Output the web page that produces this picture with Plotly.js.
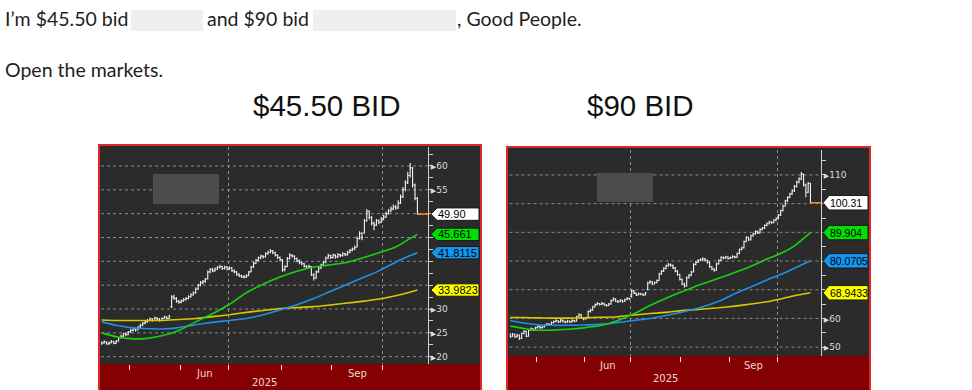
<!DOCTYPE html>
<html><head><meta charset="utf-8">
<script src="https://cdn.plot.ly/plotly-3.0.1.min.js"></script>
<style>html,body{margin:0;padding:0;background:#fff}#chart{width:972px;height:390px}</style>
</head><body><div id="chart"></div>
<script>
// ---------- calendar ----------
const startDay = '2025-04-14', endDay = '2025-10-21';
const holidays = ['2025-04-18','2025-05-26','2025-06-19','2025-07-04','2025-09-01'];
const monthNames = {'06':'Jun','09':'Sep'};
const yearLabel = '2025';

// ---------- $45.50 BID chart (daily OHLC) ----------
const open45 = [22.7,22.9,23.1,22.7,22.9,23.2,22.8,23.3,24.0,24.3,
 24.8,24.6,25.2,25.5,25.8,25.6,26.2,26.6,27.0,27.3,
 27.6,27.9,27.6,28.1,27.9,27.6,28.0,28.3,28.0,30.5,
 32.5,32.2,31.6,31.4,31.7,32.0,32.2,32.6,33.0,33.4,
 34.2,35.0,35.5,35.8,36.4,37.8,38.3,38.0,38.4,38.7,
 38.9,38.5,38.8,38.4,38.6,38.0,37.8,37.3,37.0,36.8,
 36.7,37.0,37.8,38.8,39.6,40.2,40.7,41.1,40.9,41.6,
 41.9,42.2,41.8,41.3,40.8,40.3,38.2,38.9,40.6,41.3,
 41.1,40.6,40.1,39.7,39.5,39.0,38.8,38.9,37.2,36.5,
 37.8,38.6,39.2,39.8,40.7,41.2,40.8,41.3,40.9,41.4,
 41.2,41.6,41.4,41.9,42.3,42.6,43.0,44.8,45.9,46.0,
 48.5,50.4,49.2,48.0,47.6,48.5,48.2,48.9,49.3,50.0,
 50.6,51.0,51.4,51.2,52.2,53.5,55.0,56.5,58.0,59.6,
 56.0,53.2];
const high45 = [23.2,23.4,23.2,23.2,23.5,23.3,23.5,24.2,24.6,25.0,
 25.0,25.4,25.8,26.1,26.0,26.4,26.9,27.3,27.6,27.9,
 28.2,28.1,28.4,28.3,28.1,28.3,28.6,28.5,28.8,32.9,
 33.0,32.5,31.9,32.0,32.3,32.5,32.9,33.3,33.7,34.5,
 35.3,35.9,36.1,36.5,38.1,38.6,38.6,38.7,39.0,39.3,
 39.1,39.1,39.0,38.9,38.8,38.3,38.0,37.5,37.2,37.1,
 37.3,38.0,39.0,39.9,40.5,41.0,41.4,41.3,41.9,42.2,
 42.6,42.4,42.0,41.5,41.0,40.5,39.2,40.9,41.7,41.5,
 41.3,40.8,40.4,40.0,39.7,39.2,39.3,39.0,37.5,38.1,
 38.9,39.5,40.1,41.0,41.6,41.4,41.6,41.5,41.7,41.6,
 41.9,41.8,42.2,42.6,42.9,43.3,45.2,46.3,46.1,48.9,
 51.0,50.7,49.5,48.3,48.9,48.8,49.3,49.7,50.4,51.0,
 51.5,51.9,51.8,52.8,54.0,55.6,57.0,58.8,60.6,59.8,
 56.3,53.5];
const low45 = [22.5,22.7,22.5,22.5,22.8,22.6,22.7,23.2,23.8,24.1,
 24.3,24.5,25.0,25.3,25.3,25.5,26.0,26.4,26.8,27.1,
 27.4,27.4,27.5,27.7,27.4,27.5,27.9,27.8,27.9,30.2,
 31.9,31.3,31.1,31.2,31.5,31.8,32.0,32.4,32.8,33.2,
 34.0,34.8,35.2,35.5,36.2,37.5,37.7,37.8,38.2,38.5,
 38.2,38.3,38.1,38.2,37.8,37.5,37.0,36.7,36.5,36.4,
 36.5,36.9,37.7,38.6,39.4,40.0,40.5,40.6,40.8,41.4,
 41.7,41.5,41.0,40.5,40.0,37.8,37.9,38.8,40.4,40.8,
 40.3,39.8,39.4,39.2,38.7,38.5,38.6,36.9,36.0,36.3,
 37.6,38.4,39.0,39.6,40.5,40.5,40.6,40.6,40.7,40.9,
 41.0,41.1,41.2,41.7,42.1,42.4,42.9,44.6,44.4,45.8,
 48.3,48.8,47.5,46.5,47.4,47.8,48.0,48.6,49.1,49.8,
 50.3,50.7,50.8,51.0,52.0,53.3,54.7,56.2,57.6,55.5,
 52.8,49.7];
const close45 = [22.9,23.1,22.7,22.9,23.2,22.8,23.2,24.0,24.3,24.8,
 24.6,25.2,25.5,25.8,25.6,26.2,26.6,27.0,27.3,27.6,
 27.9,27.6,28.1,27.9,27.6,28.0,28.3,28.0,28.5,32.5,
 32.2,31.6,31.4,31.7,32.0,32.2,32.6,33.0,33.4,34.2,
 35.0,35.5,35.8,36.2,37.8,38.3,38.0,38.4,38.7,38.9,
 38.5,38.8,38.4,38.6,38.0,37.8,37.3,37.0,36.8,36.7,
 37.0,37.8,38.8,39.6,40.2,40.7,41.1,40.9,41.6,41.9,
 42.2,41.8,41.3,40.8,40.3,38.2,38.9,40.6,41.3,41.1,
 40.6,40.1,39.7,39.5,39.0,38.8,38.9,37.2,36.5,37.8,
 38.6,39.2,39.8,40.7,41.2,40.8,41.3,40.9,41.4,41.2,
 41.6,41.4,41.9,42.3,42.6,42.9,44.8,45.9,45.0,48.5,
 50.4,49.2,48.0,47.6,48.5,48.2,48.9,49.3,50.0,50.6,
 51.0,51.4,51.2,52.2,53.5,55.0,56.5,58.0,59.6,56.0,
 53.2,49.9];
// moving averages (sampled at trading-day positions)
const ma45Day    = [0,6,12,18,25,32,39,46,53,60,67,74,81,88,94,101,108,115,122,127,131];
const ma45Green  = [25.0,24.2,23.8,23.8,24.4,25.5,27.3,29.0,31.0,33.4,35.2,36.7,37.9,38.8,39.2,39.7,40.7,41.8,43.0,44.5,45.661];
const ma45Blue   = [27.3,26.6,26.1,25.9,25.8,26.1,26.7,27.2,27.6,28.0,28.8,29.8,30.9,32.2,33.5,35.0,36.5,38.0,39.8,41.0,41.8115];
const ma45Yellow = [27.7,27.6,27.6,27.6,27.6,27.8,28.0,28.4,28.8,29.3,29.7,30.1,30.3,30.5,30.8,31.2,31.6,32.1,32.8,33.4,33.9823];
const labels45 = ['49.90','45.661','41.8115','33.9823'];
const ticks45 = [20,25,30,35,40,45,50,55,60];

// ---------- $90 BID chart ----------
const open90 = [54.3,53.8,54.5,53.6,54.2,53.0,54.8,55.5,53.8,56.0,
 56.4,56.0,56.8,57.2,56.8,57.0,57.6,58.0,57.8,58.5,
 58.9,59.2,58.8,59.4,59.0,58.7,59.1,58.8,59.3,59.0,
 60.5,61.3,60.2,59.8,60.5,62.4,62.9,64.0,64.8,65.2,
 64.9,65.3,64.7,64.5,65.0,66.2,66.8,66.0,65.8,66.3,
 65.9,66.5,67.0,67.5,69.6,68.8,68.2,68.6,68.5,68.2,
 70.0,72.4,72.8,72.0,72.5,73.2,75.5,76.5,77.4,78.3,
 78.8,78.5,77.6,76.5,75.3,73.6,72.0,71.3,74.2,75.0,
 76.2,78.8,79.6,80.2,80.5,80.8,80.2,79.5,78.0,77.2,
 76.8,79.0,80.2,81.3,81.0,81.4,80.9,81.2,81.6,81.3,
 82.6,84.0,84.6,86.8,88.2,87.4,88.8,89.5,90.3,89.8,
 91.0,91.5,92.4,93.0,93.6,93.4,94.2,94.8,96.0,97.6,
 99.2,101.0,102.2,103.4,104.5,106.0,107.5,108.6,110.2,106.5,
 104.0,107.0];
const high90 = [54.8,54.9,54.7,54.6,54.4,55.1,55.9,55.7,56.3,56.8,
 56.6,57.1,57.6,57.4,57.4,57.9,58.4,58.3,58.9,59.3,
 59.7,59.4,59.8,59.6,59.2,59.5,59.3,59.7,59.5,60.9,
 61.8,61.5,60.5,60.5,62.8,63.4,64.4,65.2,65.7,65.4,
 65.7,65.5,65.0,65.4,66.6,67.3,67.0,66.3,66.7,66.5,
 66.9,67.4,67.2,70.1,69.9,69.0,69.0,68.9,68.7,69.2,
 72.8,73.3,73.0,72.9,73.6,75.9,76.9,77.8,78.7,79.3,
 79.1,78.8,77.9,76.8,75.6,73.9,72.4,74.6,75.5,76.6,
 79.2,80.0,80.6,81.0,81.3,81.1,80.5,79.8,78.3,77.6,
 79.4,80.6,81.7,81.6,81.8,81.7,81.6,82.0,81.8,83.0,
 84.4,85.0,87.2,88.6,88.5,89.2,89.9,90.7,90.6,91.4,
 91.9,92.8,93.4,94.0,93.9,94.6,95.2,96.4,98.0,99.6,
 101.4,102.6,103.8,105.0,106.5,108.0,109.2,111.0,110.5,107.0,
 107.6,107.3];
const low90 = [53.2,53.5,53.2,53.3,52.5,52.8,54.5,53.4,53.6,55.7,
 55.6,55.8,56.5,56.4,56.5,56.8,57.4,57.4,57.6,58.2,
 58.7,58.4,58.6,58.6,58.3,58.5,58.4,58.6,58.7,58.9,
 60.3,59.9,59.4,59.6,60.3,62.1,62.7,63.8,64.5,64.5,
 64.7,64.4,64.1,64.3,64.8,66.0,65.7,65.4,65.6,65.5,
 65.7,66.3,66.4,67.3,68.5,67.8,68.0,68.1,67.8,68.0,
 69.8,72.1,71.6,71.8,72.3,73.0,75.2,76.2,77.1,78.0,
 78.0,77.2,76.1,74.9,73.2,71.6,70.8,71.1,73.9,74.7,
 76.0,78.5,79.3,79.9,80.2,79.8,79.1,77.6,76.8,76.3,
 76.6,78.8,80.0,80.6,80.8,80.5,80.7,81.0,80.9,81.1,
 82.4,83.7,84.4,86.5,87.0,87.2,88.5,89.2,89.4,89.6,
 90.7,91.2,92.1,92.7,93.0,93.2,93.9,94.5,95.7,97.3,
 98.9,100.6,101.9,103.0,104.1,105.6,107.1,108.2,106.0,102.2,
 103.7,100.1];
const close90 = [53.8,54.5,53.6,54.2,53.0,54.8,55.5,53.8,56.0,56.4,
 56.0,56.8,57.2,56.8,57.0,57.6,58.0,57.8,58.5,58.9,
 59.2,58.8,59.4,59.0,58.7,59.1,58.8,59.3,59.0,60.5,
 61.3,60.2,59.8,60.0,62.4,62.9,64.0,64.8,65.2,64.9,
 65.3,64.7,64.5,65.0,66.2,66.8,66.0,65.8,66.3,65.9,
 66.5,67.0,66.8,69.6,68.8,68.2,68.6,68.5,68.2,68.8,
 72.4,72.8,72.0,72.5,73.2,75.5,76.5,77.4,78.3,78.8,
 78.5,77.6,76.5,75.3,73.6,72.0,71.3,74.2,75.0,76.2,
 78.8,79.6,80.2,80.5,80.8,80.2,79.5,78.0,77.2,76.8,
 79.0,80.2,81.3,81.0,81.4,80.9,81.2,81.6,81.3,82.6,
 84.0,84.6,86.8,88.2,87.4,88.8,89.5,90.3,89.8,91.0,
 91.5,92.4,93.0,93.6,93.4,94.2,94.8,96.0,97.6,99.2,
 101.0,102.2,103.4,104.5,106.0,107.5,108.6,110.2,106.5,104.0,
 107.0,100.31];
const ma90Day    = [0,6,12,18,25,32,40,47,54,61,69,76,83,91,98,105,112,118,124,131];
const ma90Green  = [57.3,56.5,55.9,55.9,56.2,56.7,57.6,59.3,61.6,64.5,67.4,69.6,71.8,74.0,76.0,78.2,80.7,82.6,85.3,89.904];
const ma90Blue   = [59.3,58.4,57.8,57.6,57.6,57.7,58.0,58.6,59.3,60.0,61.2,62.4,63.8,66.0,68.6,71.0,73.4,75.3,77.5,80.0705];
const ma90Yellow = [60.3,60.3,60.2,60.1,60.1,60.2,60.4,60.6,61.2,61.7,62.2,62.8,63.2,63.7,64.3,65.0,65.8,66.8,67.9,68.9433];
const labels90 = ['100.31','89.904','80.0705','68.9433'];
const ticks90 = [50,60,70,80,90,100,110];

// ---------- helpers ----------
function buildTradingDays(s, e, hol){
  const out=[]; const d=new Date(s+'T00:00:00Z'); const end=new Date(e+'T00:00:00Z');
  while(d<=end){ const wd=d.getUTCDay(); const k=d.toISOString().slice(0,10);
    if(wd!==0 && wd!==6 && !hol.includes(k)) out.push(k);
    d.setUTCDate(d.getUTCDate()+1); }
  return out;
}
const days = buildTradingDays(startDay, endDay, holidays);
const dayIdx = days.map((d,i)=>i);
const monthStarts = dayIdx.filter(i=>i>0 && days[i].slice(5,7)!==days[i-1].slice(5,7));
const quarterStarts = monthStarts.filter(i=>['01','04','07','10'].includes(days[i].slice(5,7)));

const W=972, H=390;
const px = v => v/W, py = v => 1 - v/H;
const maColors = {green:'#14d214', blue:'#1e90e6', yellow:'#d8c800'};
const boxColors = ['#ffffff','#00e000','#1496f0','#ffff00'];

const charts = [
  {xa:'x', ya:'y', dom:[101,428,147,364], xr:[-0.3,135.4], yr:[18.47,63.98], minor:2.5, ticks:ticks45,
   o:open45,h:high45,l:low45,c:close45, maDay:ma45Day, g:ma45Green, b:ma45Blue, yl:ma45Yellow, labels:labels45,
   frame:[99,145,481], band:364, blur:[153,174,219,204], box:[431,437,479], boxHalf:6.2, tagFont:11, yearY:382},
  {xa:'x2', ya:'y2', dom:[509.5,821,150,356], xr:[-0.3,135.6], yr:[46.9,118.7], minor:5, ticks:ticks90,
   o:open90,h:high90,l:low90,c:close90, maDay:ma90Day, g:ma90Green, b:ma90Blue, yl:ma90Yellow, labels:labels90,
   frame:[507,147,870], band:356, blur:[597,173,653,202], box:[823,829,868], boxHalf:7.2, tagFont:10.5, yearY:378}
];

const traces=[], shapes=[], annotations=[];
const layout = {width:W, height:H, margin:{l:0,r:0,t:0,b:0}, paper_bgcolor:'#ffffff',
  plot_bgcolor:'rgba(0,0,0,0)', showlegend:false, hovermode:false};

charts.forEach((ch,k)=>{
  const [x0,x1,y0,y1] = ch.dom;
  const ppu = (y1-y0)/(ch.yr[1]-ch.yr[0]);
  const tagVals = ch.labels.map(parseFloat);
  // tick labels hidden behind value tags
  const shownTicks = ch.ticks.filter(t=>tagVals.every(v=>Math.abs(t-v)*ppu > ch.boxHalf+5));
  const xKey = k===0?'xaxis':'xaxis2', yKey = k===0?'yaxis':'yaxis2';
  layout[xKey] = {domain:[px(x0),px(x1)], range:ch.xr, anchor:ch.ya, fixedrange:true,
    tickvals:quarterStarts.map(i=>i-0.5), showticklabels:false, ticks:'outside', ticklen:5, tickcolor:'#e6e6e6',
    showgrid:true, gridcolor:'#8c8c8c', griddash:'dot', gridwidth:1, zeroline:false, showline:false,
    rangeslider:{visible:false},
    minor:{tickvals:monthStarts.map(i=>i-0.5), ticks:'outside', ticklen:5, tickcolor:'#e6e6e6', showgrid:false}};
  layout[yKey] = {domain:[py(y1),py(y0)], range:ch.yr, anchor:ch.xa, side:'right', fixedrange:true,
    showline:true, linecolor:'#d0d0d0', linewidth:1,
    tickvals:shownTicks, ticktext:shownTicks.map(v=>'<span style="font-size:7px">▶</span>'+v),
    ticks:'', tickfont:{family:'DejaVu Sans', size:9, color:'#dcdcdc'},
    showgrid:false, zeroline:false,
    minor:{dtick:ch.minor, tick0:0, ticks:'outside', ticklen:4, tickcolor:'#d0d0d0', showgrid:false}};

  // frame, band, blur
  shapes.push({type:'rect', layer:'below', xref:'paper', yref:'paper', x0:px(ch.frame[0]), x1:px(ch.frame[2]),
    y0:py(400), y1:py(ch.frame[1]), fillcolor:'#2b2b2b', line:{color:'#dc2828', width:2}});
  shapes.push({type:'rect', layer:'below', xref:'paper', yref:'paper', x0:px(ch.frame[0]+1), x1:px(ch.frame[2]-1),
    y0:py(400), y1:py(ch.band), fillcolor:'#850000', line:{width:0}});
  // horizontal dotted grid at every tick value
  ch.ticks.forEach(t=>{
    shapes.push({type:'line', layer:'below', xref:'paper', yref:ch.ya, x0:px(x0), x1:px(x1), y0:t, y1:t,
      line:{color:'#8c8c8c', width:1, dash:'dot'}});
  });
  shapes.push({type:'rect', layer:'above', xref:'paper', yref:'paper', x0:px(ch.blur[0]), x1:px(ch.blur[2]),
    y0:py(ch.blur[3]), y1:py(ch.blur[1]), fillcolor:'#4c4c4c', line:{width:0}});

  // moving averages
  [['yl','yellow'],['b','blue'],['g','green']].forEach(([key,col])=>{
    traces.push({type:'scatter', mode:'lines', x:ch.maDay, y:ch[key], xaxis:ch.xa, yaxis:ch.ya,
      line:{color:maColors[col], width:1.6, shape:'spline', smoothing:0.6}, hoverinfo:'skip'});
  });
  // price bars
  traces.push({type:'ohlc', x:dayIdx, open:ch.o, high:ch.h, low:ch.l, close:ch.c, xaxis:ch.xa, yaxis:ch.ya,
    increasing:{line:{color:'#f4f4f4', width:1.1}}, decreasing:{line:{color:'#f4f4f4', width:1.1}},
    tickwidth:0.45, hoverinfo:'skip'});

  // last price line
  const last = ch.c.length-1;
  shapes.push({type:'line', layer:'above', xref:ch.xa, yref:ch.ya, x0:last, x1:ch.xr[1], y0:ch.c[last], y1:ch.c[last],
    line:{color:'#ff8a1c', width:1.5}});

  // value tags
  const [bt, bs, br] = ch.box; const hh = ch.boxHalf/ppu;
  ch.labels.forEach((lab,j)=>{
    const v = tagVals[j];
    shapes.push({type:'path', layer:'above', xref:'paper', yref:ch.ya,
      path:`M ${px(bt)},${v} L ${px(bs)},${v+hh} L ${px(br)},${v+hh} L ${px(br)},${v-hh} L ${px(bs)},${v-hh} Z`,
      fillcolor:boxColors[j], line:{color:'#1a1a1a', width:1}});
    annotations.push({text:lab, xref:'paper', yref:ch.ya, x:px(bs-0.5), y:v, xanchor:'left', yanchor:'middle',
      showarrow:false, borderpad:0, font:{family:'Liberation Sans', size:ch.tagFont, color:'#000'}});
  });

  // month + year labels in band
  monthStarts.forEach((s,m)=>{
    const mm = days[s].slice(5,7);
    if(monthNames[mm]){
      const e = m+1<monthStarts.length ? monthStarts[m+1] : days.length;
      annotations.push({text:monthNames[mm], xref:ch.xa, yref:'paper', x:(s+e)/2-0.5, y:py(ch.band+9),
        xanchor:'center', yanchor:'middle', showarrow:false, font:{family:'DejaVu Sans', size:10, color:'#ecd6d6'}});
    }
  });
  annotations.push({text:yearLabel, xref:'paper', yref:'paper', x:px((x0+x1)/2), y:py(ch.yearY),
    xanchor:'center', yanchor:'middle', showarrow:false, font:{family:'DejaVu Sans', size:10, color:'#ecd6d6'}});
});

// ---------- page text ----------
const bodyFont = {family:'Lato', size:19.5, color:'#1e1e1e'};
shapes.push({type:'rect', xref:'paper', yref:'paper', x0:px(131), x1:px(203), y0:py(31), y1:py(10), fillcolor:'#efefef', line:{width:0}});
shapes.push({type:'rect', xref:'paper', yref:'paper', x0:px(313), x1:px(456), y0:py(31), y1:py(10), fillcolor:'#efefef', line:{width:0}});
[['I’m $45.50 bid',3],['and $90 bid',205],[', Good People.',455]].forEach(([t,x])=>{
  annotations.push({text:t, xref:'paper', yref:'paper', x:px(x), y:py(18), xanchor:'left', yanchor:'middle', showarrow:false, font:bodyFont});
});
annotations.push({text:'Open the markets.', xref:'paper', yref:'paper', x:px(3), y:py(69), xanchor:'left', yanchor:'middle', showarrow:false, font:bodyFont});
const titleFont = {family:'Liberation Sans', size:29.5, color:'#111'};
annotations.push({text:'$45.50 BID', xref:'paper', yref:'paper', x:px(327), y:py(106), xanchor:'center', yanchor:'middle', showarrow:false, font:titleFont});
annotations.push({text:'$90 BID', xref:'paper', yref:'paper', x:px(640), y:py(106), xanchor:'center', yanchor:'middle', showarrow:false, font:titleFont});

layout.shapes = shapes;
layout.annotations = annotations;
Plotly.newPlot('chart', traces, layout, {displayModeBar:false, staticPlot:true});
</script>
</body></html>
